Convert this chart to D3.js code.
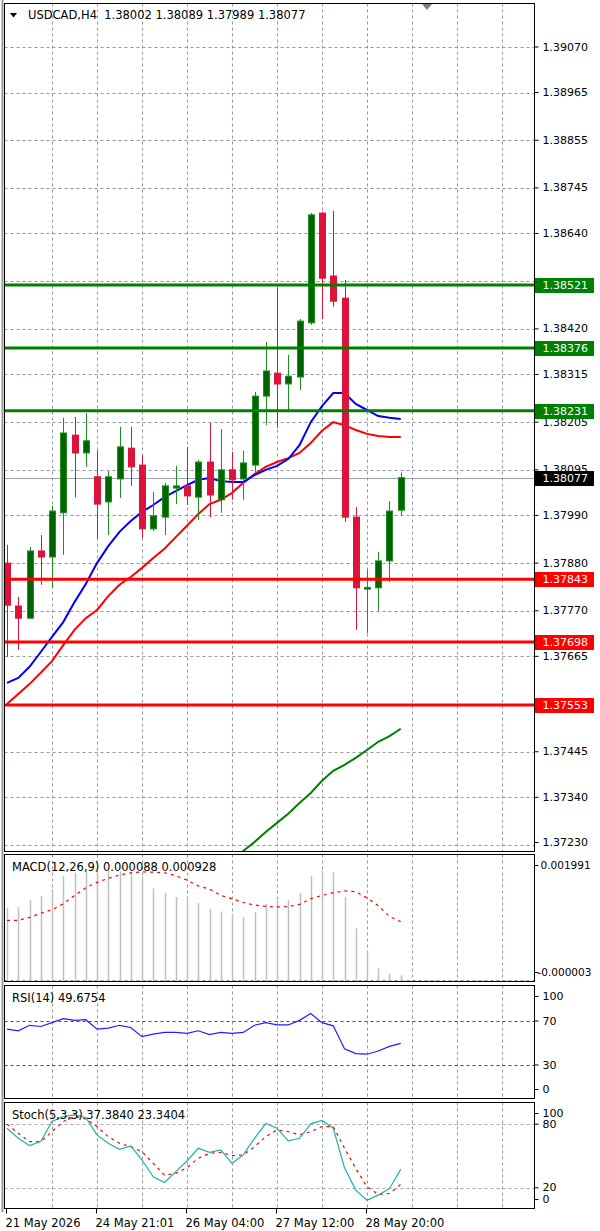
<!DOCTYPE html>
<html>
<head>
<meta charset="utf-8">
<script src="https://cdn.jsdelivr.net/npm/d3@7"></script>
<style>
  body { margin: 0; background: #fff; }
  svg { display: block; font-family: "DejaVu Sans", sans-serif; }
</style>
</head>
<body>
<script>
// ---- data (H4 bars, oldest first) ----
const open  = [1.37880,1.37781,1.37753,1.37908,1.37894,1.37996,1.38175,1.38134,1.38079,1.38021,1.38074,1.38145,1.38106,1.37959,1.37986,1.38053,1.38058,1.38032,1.38113,1.38026,1.38095,1.38074,1.38106,1.38265,1.38318,1.38293,1.38309,1.38434,1.38687,1.38542,1.38491,1.37986,1.37820,1.37823,1.37885,1.38002];
const high  = [1.37922,1.37802,1.37917,1.37945,1.38012,1.38215,1.38217,1.38226,1.38139,1.38092,1.38194,1.38194,1.38129,1.38044,1.38065,1.38104,1.38148,1.38118,1.38203,1.38189,1.38136,1.38139,1.38275,1.38390,1.38514,1.38360,1.38443,1.38687,1.38690,1.38692,1.38533,1.38009,1.37866,1.37906,1.38023,1.38089];
const low   = [1.37664,1.37680,1.37751,1.37830,1.37823,1.37899,1.38032,1.38102,1.37936,1.37945,1.38030,1.38058,1.37938,1.37954,1.37945,1.38016,1.38014,1.37979,1.37986,1.37996,1.38026,1.38026,1.38088,1.38198,1.38192,1.38233,1.38279,1.38429,1.38443,1.38471,1.37975,1.37726,1.37719,1.37770,1.37837,1.37989];
const close = [1.37783,1.37753,1.37908,1.37894,1.38000,1.38180,1.38134,1.38162,1.38016,1.38079,1.38148,1.38102,1.37959,1.37989,1.38058,1.38058,1.38035,1.38113,1.38037,1.38095,1.38072,1.38111,1.38265,1.38323,1.38293,1.38311,1.38438,1.38683,1.38537,1.38484,1.37986,1.37823,1.37824,1.37885,1.38000,1.38077];

const maBlue  = [1.37604,1.37615,1.37641,1.37675,1.37710,1.37744,1.37790,1.37832,1.37880,1.37919,1.37952,1.37977,1.37998,1.38014,1.38032,1.38046,1.38060,1.38072,1.38076,1.38069,1.38067,1.38067,1.38083,1.38095,1.38104,1.38120,1.38152,1.38205,1.38242,1.38272,1.38272,1.38247,1.38233,1.38219,1.38215,1.38212];
const maRed   = [1.37555,1.37578,1.37601,1.37627,1.37654,1.37691,1.37726,1.37753,1.37772,1.37804,1.37830,1.37848,1.37869,1.37892,1.37913,1.37940,1.37966,1.37993,1.38016,1.38026,1.38042,1.38065,1.38085,1.38102,1.38113,1.38122,1.38134,1.38157,1.38185,1.38205,1.38198,1.38187,1.38178,1.38173,1.38171,1.38171];
const maGreen = [null,null,null,null,null,null,null,null,null,null,null,null,null,null,null,null,null,null,null,
                 1.37170,1.37193,1.37216,1.37237,1.37260,1.37281,1.37302,1.37327,1.37350,1.37378,1.37401,1.37415,1.37431,1.37449,1.37468,1.37481,1.37498];

const macdHist   = [0.001147,0.001158,0.001263,0.001332,0.001437,0.001643,0.001696,0.001717,0.001738,0.001727,0.001722,0.001701,0.001632,0.001448,0.001379,0.001316,0.001274,0.001221,0.001131,0.001089,0.001052,0.000999,0.001078,0.001210,0.001263,0.001263,0.001379,0.001643,0.001727,0.001706,0.001316,0.000825,0.000470,0.000197,0.000110,0.000088];
const macdSignal = [0.000947,0.000950,0.000995,0.001060,0.001115,0.001210,0.001340,0.001460,0.001545,0.001610,0.001660,0.001696,0.001710,0.001705,0.001696,0.001650,0.001580,0.001490,0.001440,0.001340,0.001290,0.001230,0.001190,0.001168,0.001160,0.001165,0.001200,0.001290,0.001340,0.001384,0.001411,0.001400,0.001300,0.001180,0.001010,0.000928];

const rsi = [62.6,61.1,66.1,65.0,68.5,72.1,70.6,71.2,62.6,63.5,66.1,64.1,55.8,58.1,59.6,59.6,58.7,61.1,57.6,59.6,58.7,59.6,66.1,68.5,66.4,66.4,70.6,76.8,68.5,65.6,44.8,40.4,39.8,42.7,46.9,49.68];

const stochMain   = [76.2,66.7,59.8,63.6,82.5,87.3,88.8,86.3,69.9,62.0,56.3,59.5,46.2,30.4,25.0,35.2,45.3,57.3,53.5,55.7,43.1,51.0,66.7,80.6,76.2,64.2,66.7,80.3,83.5,76.2,39.0,17.8,8.3,13.1,19.4,37.38];
const stochSignal = [80.0,71.5,63.6,63.6,73.0,82.5,87.3,85.0,77.8,68.3,62.0,58.8,54.1,43.1,32.0,33.6,39.0,47.8,52.5,53.5,50.3,51.0,58.8,68.3,74.6,73.0,69.9,73.0,77.8,77.8,57.3,38.3,21.0,13.7,14.6,23.34];

const priceTicks  = [1.39070,1.38965,1.38855,1.38745,1.38640,1.38530,1.38420,1.38315,1.38205,1.38095,1.37990,1.37880,1.37770,1.37665,1.37555,1.37445,1.37340,1.37230];
const greenLevels = [1.38521,1.38376,1.38231];
const redLevels   = [1.37843,1.37698,1.37553];
const lastPrice   = 1.38077;
const timeBars    = [0,8,16,24,32];
const timeLabels  = ["21 May 2026","24 May 21:01","26 May 04:00","27 May 12:00","28 May 20:00"];
const macdTicks   = [0.001991,-0.000003];
const rsiTicks    = [100,70,30,0];
const rsiLevels   = [70,30];
const stochTicks  = [100,80,20,0];
const stochLevels = [80,20];

const headerText = "USDCAD,H4  1.38002 1.38089 1.37989 1.38077";
const macdText   = "MACD(12,26,9) 0.000088 0.000928";
const rsiText    = "RSI(14) 49.6754";
const stochText  = "Stoch(5,3,3) 37.3840 23.3404";

// ---- layout ----
const W = 600, H = 1231;
const L = 4.5, R = 534.5;
const gridColor = "#8e99a4";
const bars = d3.range(open.length);
const gridBars = d3.range(4, 45, 4);

const x = d3.scaleLinear().domain([0, 44]).range([7, 502]);
const px = i => Math.round(x(i)) + 0.5;

const svg = d3.select("body").append("svg").attr("width", W).attr("height", H);
svg.append("rect").attr("width", W).attr("height", H).attr("fill", "#fff");
svg.append("line").attr("x1", 2.5).attr("x2", 2.5).attr("y1", 0).attr("y2", 1212)
  .attr("stroke", "#9a9a9a").attr("stroke-width", 2);

function makePane(top, bottom) {
  const id = "clip" + Math.round(top);
  svg.append("clipPath").attr("id", id).append("rect")
    .attr("x", L).attr("y", top).attr("width", R - L).attr("height", bottom - top);
  const g = svg.append("g");
  const inner = g.append("g").attr("clip-path", `url(#${id})`);
  inner.selectAll(null).data(gridBars).join("line")
    .attr("x1", px).attr("x2", px).attr("y1", top).attr("y2", bottom)
    .attr("stroke", gridColor).attr("stroke-dasharray", "3,3");
  return { g, inner, top, bottom };
}

function finishPane(p) {
  p.g.append("rect").attr("x", L).attr("y", p.top).attr("width", R - L).attr("height", p.bottom - p.top)
    .attr("fill", "none").attr("stroke", "#000");
}

function rightAxis(p, scale, ticks, fmt, size) {
  const ax = p.g.append("g").attr("transform", `translate(${R},0)`)
    .call(d3.axisRight(scale).tickValues(ticks).tickFormat(fmt).tickSize(4).tickPadding(4));
  ax.select(".domain").remove();
  ax.selectAll("line").attr("stroke", "#000");
  ax.selectAll("text").attr("font-family", "DejaVu Sans").attr("font-size", size || 11).attr("fill", "#000");
  ax.selectAll(".tick").attr("transform", d => {
    const y = Math.max(p.top + 11, Math.min(p.bottom - 9, scale(d)));
    return `translate(0,${y})`;
  });
  return ax;
}

function label(p, text) {
  p.g.append("text").attr("x", 12).attr("y", p.top + 16)
    .attr("font-size", 11.5).attr("fill", "#000").text(text);
}

// ---- main price pane ----
const main = makePane(3.5, 851.5);
const yP = d3.scaleLinear().domain([1.37230, 1.39070]).range([845, 47]);

main.inner.selectAll(null).data(priceTicks).join("line")
  .attr("x1", L).attr("x2", R)
  .attr("y1", d => Math.round(yP(d)) + 0.5).attr("y2", d => Math.round(yP(d)) + 0.5)
  .attr("stroke", gridColor).attr("stroke-dasharray", "3,3");

main.inner.append("line").attr("x1", L).attr("x2", R)
  .attr("y1", Math.round(yP(lastPrice)) + 0.5).attr("y2", Math.round(yP(lastPrice)) + 0.5)
  .attr("stroke", "#9aa3ad");

const maLine = d3.line().defined(d => d != null).x((d, i) => x(i)).y(d => yP(d));
[[maGreen, "#008000"], [maRed, "#ff0000"], [maBlue, "#0000ff"]].forEach(([s, c]) => {
  main.inner.append("path").attr("d", maLine(s)).attr("fill", "none")
    .attr("stroke", c).attr("stroke-width", 2);
});

const up = i => close[i] >= open[i];
main.inner.selectAll(null).data(bars).join("line")
  .attr("x1", px).attr("x2", px)
  .attr("y1", i => yP(high[i])).attr("y2", i => yP(low[i]))
  .attr("stroke", i => up(i) ? "#1f8f1f" : "#dc143c");
main.inner.selectAll(null).data(bars).join("rect")
  .attr("x", i => Math.round(x(i)) - 2.5).attr("width", 6)
  .attr("y", i => yP(Math.max(open[i], close[i])))
  .attr("height", i => Math.max(1, Math.abs(yP(open[i]) - yP(close[i]))))
  .attr("fill", i => up(i) ? "#006400" : "#dc143c")
  .attr("stroke", i => up(i) ? "#1f8f1f" : "#dc143c");

main.inner.selectAll(null).data(greenLevels.map(v => [v, "#008000"]).concat(redLevels.map(v => [v, "#ff0000"])))
  .join("line")
  .attr("x1", L).attr("x2", R).attr("y1", d => yP(d[0])).attr("y2", d => yP(d[0]))
  .attr("stroke", d => d[1]).attr("stroke-width", 3);

main.g.append("path").attr("d", "M10,13L17,13L13.5,17.5Z").attr("fill", "#000");
main.g.append("text").attr("x", 28).attr("y", 19).attr("font-size", 11.5)
  .attr("fill", "#000").attr("xml:space", "preserve").style("white-space", "pre").text(headerText);
main.g.append("path").attr("d", "M422,4L432,4L427,10Z").attr("fill", "#708090");
finishPane(main);

const allLevels = greenLevels.concat(redLevels);
rightAxis(main, yP, priceTicks.filter(t => allLevels.every(l => Math.abs(l - t) > 0.00012)), d3.format(".5f"));

const boxes = greenLevels.map(v => [v, "#008000"]).concat(redLevels.map(v => [v, "#ff0000"]), [[lastPrice, "#000"]]);
const bx = main.g.selectAll(null).data(boxes).join("g")
  .attr("transform", d => `translate(0,${Math.round(yP(d[0]))})`);
bx.append("rect").attr("x", 535).attr("y", -7).attr("width", 59).attr("height", 15).attr("fill", d => d[1]);
bx.append("text").attr("x", 542.5).attr("y", 0.5).attr("dy", "0.35em").attr("font-size", 11)
  .attr("fill", "#fff").text(d => d3.format(".5f")(d[0]));

// ---- MACD pane ----
const macd = makePane(854.5, 981.5);
const yM = d3.scaleLinear().domain([-0.000003, 0.001991]).range([981, 854]);
macd.inner.append("line").attr("x1", L).attr("x2", R).attr("y1", Math.round(yM(0)) - 0.5).attr("y2", Math.round(yM(0)) - 0.5)
  .attr("stroke", gridColor).attr("stroke-dasharray", "3,3");
macd.inner.selectAll(null).data(bars).join("line")
  .attr("x1", px).attr("x2", px).attr("y1", yM(0)).attr("y2", i => yM(macdHist[i]))
  .attr("stroke", "#c0c0c0").attr("stroke-width", 1.5);
macd.inner.append("path").attr("d", d3.line().x((d, i) => x(i)).y(d => yM(d))(macdSignal))
  .attr("fill", "none").attr("stroke", "#ff0000").attr("stroke-width", 1.2).attr("stroke-dasharray", "3,4");
label(macd, macdText);
finishPane(macd);
const macdAx = rightAxis(macd, yM, macdTicks, d => d3.format(".6f")(d).replace("\u2212", "-"), 10.5);
macdAx.selectAll("text").attr("x", d => d < 0 ? 3 : 6);

// ---- RSI pane ----
const rp = makePane(985.5, 1098.5);
const yR = d3.scaleLinear().domain([0, 100]).range([1098, 988]);
rp.inner.selectAll(null).data(rsiLevels).join("line")
  .attr("x1", L).attr("x2", R).attr("y1", d => Math.round(yR(d)) + 0.5).attr("y2", d => Math.round(yR(d)) + 0.5)
  .attr("stroke", "#008000").attr("stroke-dasharray", "3,3");
label(rp, rsiText);
rp.inner.append("path").attr("d", d3.line().x((d, i) => x(i)).y(d => yR(d))(rsi))
  .attr("fill", "none").attr("stroke", "#2020ff").attr("stroke-width", 1.2);
finishPane(rp);
rightAxis(rp, yR, rsiTicks, d3.format("d"));

// ---- Stochastic pane ----
const sp = makePane(1102.5, 1208.5);
const yS = d3.scaleLinear().domain([0, 100]).range([1209, 1103]);
sp.inner.selectAll(null).data(stochLevels).join("line")
  .attr("x1", L).attr("x2", R).attr("y1", d => Math.round(yS(d)) + 0.5).attr("y2", d => Math.round(yS(d)) + 0.5)
  .attr("stroke", "#a8a8a8").attr("stroke-dasharray", "3,3");
label(sp, stochText);
sp.inner.append("path").attr("d", d3.line().x((d, i) => x(i)).y(d => yS(d))(stochSignal))
  .attr("fill", "none").attr("stroke", "#ff0000").attr("stroke-width", 1.2).attr("stroke-dasharray", "3,4");
sp.inner.append("path").attr("d", d3.line().x((d, i) => x(i)).y(d => yS(d))(stochMain))
  .attr("fill", "none").attr("stroke", "#20b2aa").attr("stroke-width", 1.2);
finishPane(sp);
rightAxis(sp, yS, stochTicks, d3.format("d"));

// ---- time axis ----
const tx = svg.append("g").attr("transform", "translate(0,1208.5)")
  .call(d3.axisBottom(x).tickValues(timeBars).tickFormat((d, i) => timeLabels[i]).tickSize(5).tickPadding(5));
tx.select(".domain").remove();
tx.selectAll(".tick").attr("transform", d => `translate(${Math.round(x(d)) - 0.5},0)`);
tx.selectAll("line").attr("stroke", "#000");
tx.selectAll("text").attr("text-anchor", "start").attr("x", -1)
  .attr("font-family", "DejaVu Sans").attr("font-size", 11.5).attr("fill", "#000");
</script>
</body>
</html>
